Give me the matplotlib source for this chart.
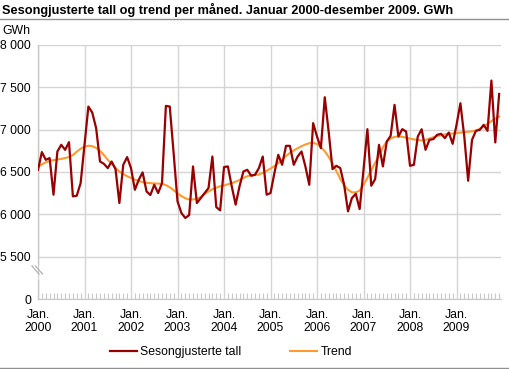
import matplotlib
matplotlib.use('Agg')
import matplotlib.pyplot as plt
from matplotlib.lines import Line2D
from matplotlib.ticker import FixedLocator

plt.rcParams['font.family'] = ['Liberation Sans', 'DejaVu Sans']

# Monthly values Jan 2000 - Dec 2009, GWh
sesongjustert = [
    6526, 6735, 6644, 6664, 6232, 6742, 6821, 6762, 6853, 6212,
    6220, 6369, 6820, 7273, 7202, 7018, 6624, 6597, 6546, 6624,
    6534, 6133, 6585, 6676, 6546, 6290, 6408, 6495, 6271, 6228,
    6349, 6251, 6369, 7281, 7273, 6723, 6153, 6016, 5957, 5990,
    6566, 6133, 6192, 6251, 6310, 6683, 6086, 6047, 6558, 6566,
    6330, 6114, 6330, 6506, 6526, 6456, 6467, 6546, 6683, 6232,
    6251, 6487, 6703, 6585, 6809, 6809, 6585, 6683, 6742, 6566,
    6349, 7077, 6919, 6782, 7383, 6978, 6534, 6573, 6546, 6349,
    6035, 6192, 6243, 6062, 6526, 7006, 6338, 6416, 6821, 6566,
    6860, 6927, 7293, 6919, 7006, 6978, 6573, 6585, 6919, 7005,
    6762, 6880, 6888, 6939, 6951, 6900, 6966, 6833, 7057, 7312,
    6920, 6397, 6880, 6986, 6998, 7057, 6986, 7580, 6849, 7422,
]
trend = [
    6560, 6590, 6615, 6630, 6640, 6648, 6655, 6665, 6676, 6700,
    6740, 6775, 6800, 6810, 6805, 6785, 6750, 6700, 6645, 6595,
    6550, 6505, 6475, 6450, 6430, 6410, 6395, 6380, 6372, 6368,
    6365, 6363, 6360, 6345, 6320, 6285, 6250, 6215, 6190, 6175,
    6175, 6185, 6205, 6240, 6270, 6295, 6315, 6330, 6340, 6355,
    6370, 6385, 6405, 6430, 6450, 6460, 6465, 6470, 6490, 6515,
    6540, 6570, 6605, 6645, 6690, 6725, 6755, 6780, 6805, 6825,
    6840, 6845, 6830, 6795, 6745, 6680, 6600, 6510, 6420, 6340,
    6290, 6260, 6260, 6280, 6350, 6430, 6520, 6610, 6690, 6790,
    6860, 6895, 6915, 6920, 6915, 6905, 6895, 6885, 6878, 6872,
    6878, 6895, 6910, 6925, 6935, 6945, 6951, 6955, 6960, 6965,
    6970, 6975, 6980, 6990, 7010, 7035, 7070, 7100, 7130, 7155,
]
years = list(range(2000, 2010))
# broken axis: the bottom tick stands for 0
ytick_vals = [5000, 5500, 6000, 6500, 7000, 7500, 8000]
ytick_labels = ['0', '5 500', '6 000', '6 500', '7 000', '7 500', '8 000']

W, H = 510, 369
fig = plt.figure(figsize=(W / 100, H / 100), dpi=100)
ax = fig.add_axes([38 / W, 1 - 299 / H, (500.7 - 38) / W, (299 - 45) / H])

months = list(range(len(sesongjustert)))
grid_c = '#d4d4d4'
ax.plot(months, trend, color='#ff9a2e', lw=1.5, label='Trend', zorder=3)
ax.plot(months, sesongjustert, color='#990000', lw=1.6,
        label='Sesongjusterte tall', zorder=4)

ax.set_xlim(0, 119.4)
ax.set_ylim(5000, 8000)
ax.set_yticks(ytick_vals)
ax.set_yticklabels(ytick_labels)
ax.set_xticks([12 * i for i in range(len(years))])
ax.set_xticklabels([f'Jan.\n{y}' for y in years], linespacing=1.15)
ax.xaxis.set_minor_locator(FixedLocator(months))
ax.tick_params(axis='x', which='major', length=0, pad=7, labelsize=8.8)
ax.tick_params(axis='x', which='minor', direction='in', length=4.5,
               color='#c8c8c8', width=0.8)
ax.tick_params(axis='y', length=0, pad=5, labelsize=8.8)
ax.grid(True, which='major', color=grid_c, lw=1)
ax.set_axisbelow(True)

for s in ['top', 'right', 'left']:
    ax.spines[s].set_visible(False)
ax.spines['bottom'].set_color('#c8c8c8')

# left axis line with a break between 0 and 5 500
axis_c = '#c8c8c8'
y_lo = (299 - 280) / (299 - 45)
y_hi = (299 - 265) / (299 - 45)
ax.add_line(Line2D([0, 0], [0, y_lo], transform=ax.transAxes, color=axis_c,
                   lw=1, clip_on=False))
ax.add_line(Line2D([0, 0], [y_hi, 1], transform=ax.transAxes, color=axis_c,
                   lw=1, clip_on=False))
for dx in (0, 3.5):
    fig.add_artist(Line2D([(32 + dx) / W, (39 + dx) / W],
                          [1 - 266 / H, 1 - 274 / H], color='#b0b0b0', lw=0.9))

fig.text(2 / W, 1 - 31 / H, 'GWh', fontsize=8.8, va='center', ha='left')
fig.text(2 / W, 1 - 10 / H,
         'Sesongjusterte tall og trend per måned. Januar 2000-desember 2009. GWh',
         fontsize=9.2, fontweight='bold', va='center', ha='left')
fig.add_artist(Line2D([0, 1], [1 - 19 / H, 1 - 19 / H], color='#909090', lw=1))
fig.add_artist(Line2D([0, 1], [1 - 367.5 / H, 1 - 367.5 / H], color='#909090', lw=1))

h, l = ax.get_legend_handles_labels()
fig.legend(h[::-1], l[::-1], loc='center', bbox_to_anchor=(231 / W, 1 - 352 / H),
           ncol=2, frameon=False, fontsize=8.8, handlelength=2.2,
           handletextpad=0.3, columnspacing=4.0)

fig.savefig('out.png', dpi=100)
